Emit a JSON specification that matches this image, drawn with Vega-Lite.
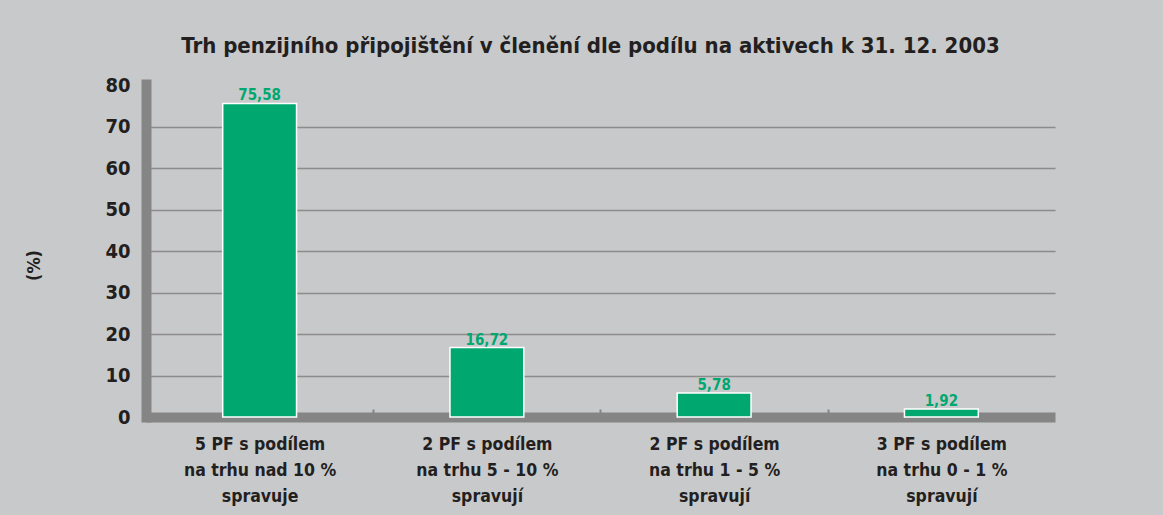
{
  "$schema": "https://vega.github.io/schema/vega-lite/v6.json",
  "autosize": "none",
  "width": 909,
  "height": 333,
  "padding": {"left": 146, "top": 84, "right": 108, "bottom": 98},
  "background": "#c8c9cb",
  "config": {
    "locale": {"number": {"decimal": ",", "thousands": " ", "grouping": [3], "currency": ["", " Kč"]}},
    "view": {"stroke": null},
    "font": "'DejaVu Sans Condensed', sans-serif"
  },
  "title": {
    "text": "Trh penzijního připojištění v členění dle podílu na aktivech k 31. 12. 2003",
    "font": "'DejaVu Sans Condensed', sans-serif",
    "fontSize": 22,
    "fontWeight": "bold",
    "color": "#231f20",
    "anchor": "middle",
    "baseline": "alphabetic",
    "offset": 0,
    "dx": -10
  },
  "data": {
    "values": [
      {"k": "5 PF s podílem|na trhu nad 10 %|spravuje", "v": 75.58},
      {"k": "2 PF s podílem|na trhu 5 - 10 %|spravují", "v": 16.72},
      {"k": "2 PF s podílem|na trhu 1 - 5 %|spravují", "v": 5.78},
      {"k": "3 PF s podílem|na trhu 0 - 1 %|spravují", "v": 1.92}
    ]
  },
  "encoding": {
    "x": {
      "field": "k", "type": "nominal", "sort": null,
      "scale": {"paddingInner": 0.675, "paddingOuter": 0.3375},
      "axis": {
        "title": null,
        "labelAngle": 0,
        "labelExpr": "split(datum.label, '|')",
        "labelFont": "'DejaVu Sans Condensed', sans-serif",
        "labelFontSize": 17.5,
        "labelFontWeight": "bold",
        "labelColor": "#231f20",
        "labelLineHeight": 26,
        "labelPadding": 26,
        "labelLimit": 300,
        "labelOffset": -113.6,
        "domainColor": "#858585",
        "domainWidth": 10,
        "tickOffset": 113.6,
        "tickSize": -8,
        "tickWidth": 2,
        "tickColor": {"condition": {"test": "indexof(datum.label, '0 - 1') >= 0", "value": "transparent"}, "value": "#858585"}
      }
    },
    "y": {
      "field": "v", "type": "quantitative",
      "scale": {"domain": [0, 80.25], "nice": false},
      "axis": {
        "title": "(%)",
        "titleFont": "'DejaVu Sans Condensed', sans-serif",
        "titleFontSize": 18,
        "titleFontWeight": "bold",
        "titleColor": "#231f20",
        "titleX": -112,
        "titleY": 181,
        "titleAngle": -90,
        "titleAlign": "center",
        "titleBaseline": "middle",
        "values": [0, 10, 20, 30, 40, 50, 60, 70, 80],
        "labelFont": "'DejaVu Sans Condensed', sans-serif",
        "labelFontSize": 20,
        "labelFontWeight": "bold",
        "labelColor": "#231f20",
        "labelPadding": 16,
        "ticks": false,
        "domainColor": "#858585",
        "domainWidth": 10,
        "domainCap": "square",
        "grid": true,
        "gridColor": {"condition": {"test": "datum.value == 80 || datum.value == 0", "value": "transparent"}, "value": "#8c8c8c"},
        "gridWidth": 1.5
      }
    }
  },
  "layer": [
    {
      "mark": {"type": "bar", "color": "#00a870", "stroke": "#ffffff", "strokeWidth": 1.5}
    },
    {
      "mark": {"type": "text", "color": "#00a870", "fontWeight": "bold", "fontSize": 15, "baseline": "alphabetic", "dy": -3},
      "encoding": {"text": {"field": "v", "type": "quantitative", "format": ".2f"}}
    }
  ]
}
